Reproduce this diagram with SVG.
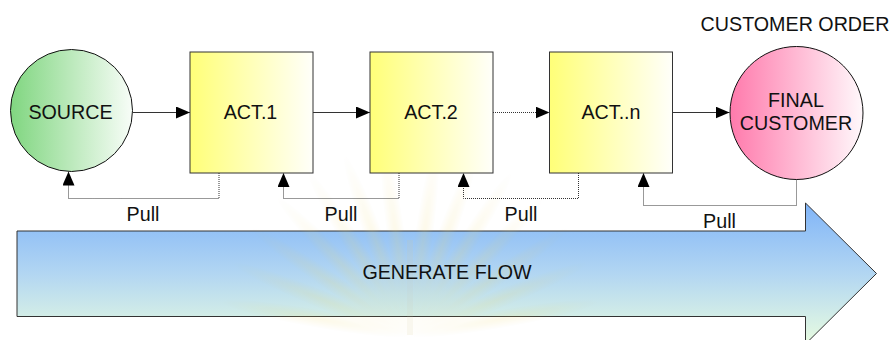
<svg xmlns="http://www.w3.org/2000/svg" width="894" height="340" viewBox="0 0 894 340">
  <defs>
    <linearGradient id="gGreen" x1="0" y1="0" x2="1" y2="0">
      <stop offset="0" stop-color="#80d680"/>
      <stop offset="1" stop-color="#f8fdf8"/>
    </linearGradient>
    <linearGradient id="gYellow" x1="0" y1="0" x2="1" y2="0">
      <stop offset="0" stop-color="#ffff78"/>
      <stop offset="1" stop-color="#fffffa"/>
    </linearGradient>
    <linearGradient id="gPink" x1="0" y1="0" x2="1" y2="0">
      <stop offset="0" stop-color="#ff7aac"/>
      <stop offset="1" stop-color="#fff8fb"/>
    </linearGradient>
    <linearGradient id="gBlue" x1="0" y1="0" x2="0" y2="1">
      <stop offset="0" stop-color="#80b4f8"/>
      <stop offset="0.5" stop-color="#b2d6f2"/>
      <stop offset="1" stop-color="#e8fce0"/>
    </linearGradient>
    <radialGradient id="gRay" cx="0.5" cy="0.5" r="0.5">
      <stop offset="0" stop-color="#f2d860"/>
      <stop offset="1" stop-color="#f2d860" stop-opacity="0"/>
    </radialGradient>
    <marker id="head" viewBox="0 0 14 12" refX="14" refY="6" markerWidth="14" markerHeight="12" orient="auto" markerUnits="userSpaceOnUse">
      <path d="M0,0 L14,6 L0,12 Z" fill="#000"/>
    </marker>
    <style>
      text { font-family: "Liberation Sans", Arial, sans-serif; font-size: 19.7px; fill: #111; text-anchor: middle; }
      .node { stroke: #333; stroke-width: 1; }
      .circle { stroke: #111; }
      .solid { fill: none; stroke: #333; stroke-width: 1; marker-end: url(#head); }
      .dotted { fill: none; stroke: #333; stroke-width: 1; stroke-dasharray: 1 1; marker-end: url(#head); }
      .ray { fill: url(#gRay); }
    </style>
  </defs>

  <rect width="894" height="340" fill="#fff"/>

  <!-- flow arrow along the bottom -->
  <g id="flow">
    <path d="M17,231 H805.5 V203 L876.5,273.5 L805.5,344 V316.5 H17 Z" fill="url(#gBlue)" stroke="#333" stroke-width="1"/>
  </g>

  <!-- faint sunburst emblem in the background -->
  <g id="emblem" opacity="0.14">
    <g transform="translate(410,335)">
      <ellipse class="ray" cx="0" cy="-95" rx="9" ry="95" transform="rotate(-80)"/>
      <ellipse class="ray" cx="0" cy="-95" rx="9" ry="95" transform="rotate(-68)"/>
      <ellipse class="ray" cx="0" cy="-95" rx="9" ry="95" transform="rotate(-56)"/>
      <ellipse class="ray" cx="0" cy="-95" rx="9" ry="95" transform="rotate(-44)"/>
      <ellipse class="ray" cx="0" cy="-95" rx="9" ry="95" transform="rotate(-32)"/>
      <ellipse class="ray" cx="0" cy="-95" rx="9" ry="95" transform="rotate(-20)"/>
      <ellipse class="ray" cx="0" cy="-95" rx="9" ry="95" transform="rotate(-8)"/>
      <ellipse class="ray" cx="0" cy="-95" rx="9" ry="95" transform="rotate(8)"/>
      <ellipse class="ray" cx="0" cy="-95" rx="9" ry="95" transform="rotate(20)"/>
      <ellipse class="ray" cx="0" cy="-95" rx="9" ry="95" transform="rotate(32)"/>
      <ellipse class="ray" cx="0" cy="-95" rx="9" ry="95" transform="rotate(44)"/>
      <ellipse class="ray" cx="0" cy="-95" rx="9" ry="95" transform="rotate(56)"/>
      <ellipse class="ray" cx="0" cy="-95" rx="9" ry="95" transform="rotate(68)"/>
      <ellipse class="ray" cx="0" cy="-95" rx="9" ry="95" transform="rotate(80)"/>
      <rect x="-3" y="-95" width="6" height="95" fill="#d8c890"/>
    </g>
  </g>

  <!-- connectors -->
  <g id="connectors">
    <path class="solid" d="M133,112.5 H190"/>
    <path class="solid" d="M313,112.5 H370"/>
    <path class="dotted" d="M493,112.5 H549.5"/>
    <path class="solid" d="M672.5,112.5 H729.5"/>
    <path class="dotted" d="M219,173 V198.5 H68.5 V171.5"/>
    <path class="dotted" d="M399,173 V198.5 H283.5 V173"/>
    <path class="dotted" d="M578.5,173 V198.5 H463.5 V173"/>
    <path class="dotted" d="M796.5,179.5 V205.5 H643.5 V173"/>
  </g>

  <g id="source">
    <circle class="node circle" cx="71.5" cy="110.5" r="61" fill="url(#gGreen)"/>
    <text x="70.5" y="119">SOURCE</text>
  </g>

  <g id="act1">
    <rect class="node" x="190" y="52" width="123" height="121" fill="url(#gYellow)"/>
    <text x="250.5" y="119">ACT.1</text>
  </g>

  <g id="act2">
    <rect class="node" x="370" y="52" width="123" height="121" fill="url(#gYellow)"/>
    <text x="431" y="119">ACT.2</text>
  </g>

  <g id="actn">
    <rect class="node" x="549.5" y="52" width="123" height="121" fill="url(#gYellow)"/>
    <text x="611" y="119">ACT..n</text>
  </g>

  <g id="final-customer">
    <circle class="node circle" cx="796.5" cy="113" r="66.5" fill="url(#gPink)"/>
    <text x="796" y="106.5">FINAL</text>
    <text x="796" y="130">CUSTOMER</text>
  </g>

  <g id="labels">
    <text x="795" y="31">CUSTOMER ORDER</text>
    <text x="143" y="220.5">Pull</text>
    <text x="341" y="221">Pull</text>
    <text x="521" y="221">Pull</text>
    <text x="719.5" y="228">Pull</text>
    <text x="447" y="279">GENERATE FLOW</text>
  </g>
</svg>
